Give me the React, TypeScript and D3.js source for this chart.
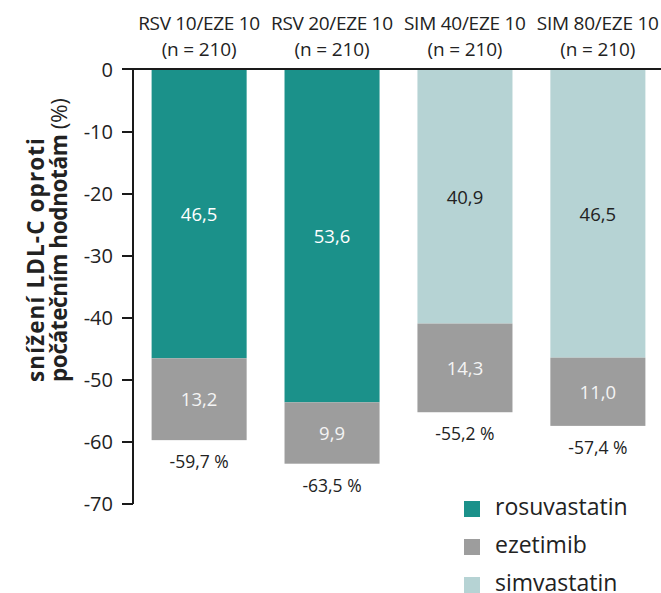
import React from "react";
import * as d3 from "d3";

const groups = ["RSV 10/EZE 10", "RSV 20/EZE 10", "SIM 40/EZE 10", "SIM 80/EZE 10"];
const groupN = ["(n = 210)", "(n = 210)", "(n = 210)", "(n = 210)"];
const statinKind = ["rosuvastatin", "rosuvastatin", "simvastatin", "simvastatin"];
const statinValues = [46.5, 53.6, 40.9, 46.5];
const ezetimibValues = [13.2, 9.9, 14.3, 11.0];
const totalValues = [59.7, 63.5, 55.2, 57.4];
const statinLabels = ["46,5", "53,6", "40,9", "46,5"];
const ezetimibLabels = ["13,2", "9,9", "14,3", "11,0"];
const totalLabels = ["-59,7 %", "-63,5 %", "-55,2 %", "-57,4 %"];
const yTicks = [0, -10, -20, -30, -40, -50, -60, -70];
const legendItems = ["rosuvastatin", "ezetimib", "simvastatin"];

const colors: Record<string, string> = {
  rosuvastatin: "#1b918a",
  ezetimib: "#9d9d9d",
  simvastatin: "#b6d3d4",
};

const FONT = "'Open Sans', 'Noto Sans', sans-serif";

export default function App() {
  const W = 661;
  const H = 593;
  const axisX = 133;
  const y = d3.scaleLinear().domain([0, -70]).range([70, 504]);
  const x = d3.scaleBand().domain(groups).range([133, 664]).paddingInner(0.285).paddingOuter(0.14);

  return (
    <svg width={W} height={H} style={{ position: "absolute", left: 0, top: 0, background: "#fff" }} fontFamily={FONT}>
      {/* zero line */}
      <line x1={122} x2={W} y1={y(0) - 1} y2={y(0) - 1} stroke="#1a1a1a" strokeWidth={2} />
      {/* bars */}
      {groups.map((g, i) => {
        const x0 = x(g)!;
        const bw = x.bandwidth();
        const total = totalValues[i];
        const split = -(total - ezetimibValues[i]);
        const statinTop = y(0);
        const statinBottom = y(split);
        const ezeBottom = y(-total);
        const cx = x0 + bw / 2;
        const statinColor = colors[statinKind[i]];
        const statinText = statinKind[i] === "rosuvastatin" ? "#ffffff" : "#222222";
        return (
          <g key={g}>
            <rect x={x0} y={statinTop} width={bw} height={statinBottom - statinTop} fill={statinColor} />
            <rect x={x0} y={statinBottom} width={bw} height={ezeBottom - statinBottom} fill={colors.ezetimib} />
            <text x={cx} y={(statinTop + statinBottom) / 2 + 7} textAnchor="middle" fontSize={18.5} fill={statinText}>
              {statinLabels[i]}
            </text>
            <text x={cx} y={(statinBottom + ezeBottom) / 2 + 7} textAnchor="middle" fontSize={18.5} fill="#f4f4f4">
              {ezetimibLabels[i]}
            </text>
            <text x={cx} y={ezeBottom + 28} textAnchor="middle" fontSize={17.5} fill="#222">
              {totalLabels[i]}
            </text>
            <text x={cx} y={30} textAnchor="middle" fontSize={19} fill="#222" textLength={122} lengthAdjust="spacing">
              {g}
            </text>
            <text x={cx} y={56} textAnchor="middle" fontSize={19} fill="#222" textLength={75} lengthAdjust="spacing">
              {groupN[i]}
            </text>
          </g>
        );
      })}
      {/* y axis */}
      <line x1={axisX} x2={axisX} y1={y(0) - 2} y2={y(-70)} stroke="#1a1a1a" strokeWidth={2} />
      {yTicks.map((t) => (
        <g key={t}>
          <line x1={122} x2={axisX} y1={y(t) - (t === 0 ? 1 : 0)} y2={y(t) - (t === 0 ? 1 : 0)} stroke="#1a1a1a" strokeWidth={2} />
          <text x={113} y={y(t) + 7} textAnchor="end" fontSize={20} fill="#222">
            {t}
          </text>
        </g>
      ))}
      {/* y label */}
      <g transform="translate(44,382) rotate(-90)">
        <text x={0} y={0} fontSize={22.5} fontWeight="bold" fill="#222" textLength={244} lengthAdjust="spacing">
          snížení LDL-C oproti
        </text>
      </g>
      <g transform="translate(67,382) rotate(-90)">
        <text x={0} y={0} fontSize={22.5} fill="#222" textLength={284} lengthAdjust="spacing">
          <tspan fontWeight="bold">počátečním hodnotám</tspan>
          <tspan fontWeight="normal"> (%)</tspan>
        </text>
      </g>
      {/* legend */}
      {legendItems.map((item, i) => (
        <g key={item} transform={`translate(464,${501 + i * 38})`}>
          <rect x={0} y={0} width={16} height={16} fill={colors[item]} />
          <text x={31} y={14} fontSize={23} fill="#222">
            {item}
          </text>
        </g>
      ))}
    </svg>
  );
}
